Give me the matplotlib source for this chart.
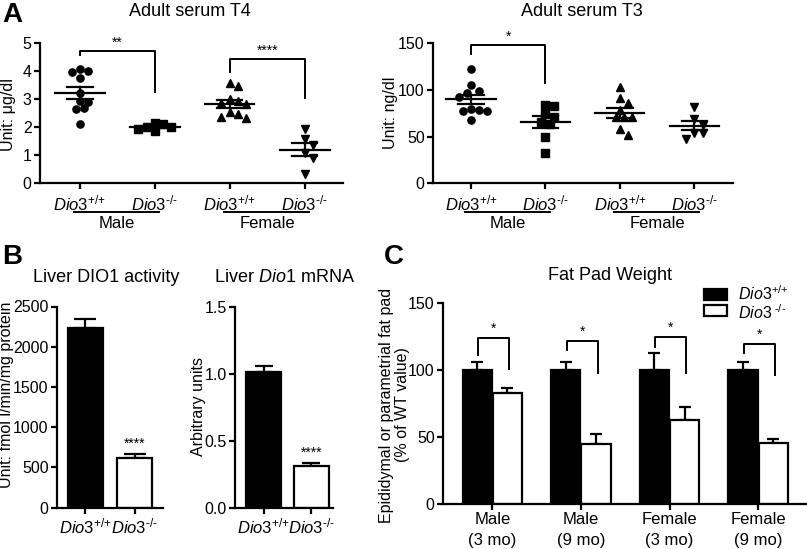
import numpy as np
import matplotlib
matplotlib.use('Agg')
import matplotlib.pyplot as plt
from matplotlib.transforms import blended_transform_factory
from matplotlib.patches import Rectangle

plt.rcParams['font.family'] = ['Liberation Sans', 'DejaVu Sans']
plt.rcParams['mathtext.fontset'] = 'custom'
plt.rcParams['mathtext.it'] = 'Liberation Sans:italic'
plt.rcParams['mathtext.rm'] = 'Liberation Sans'
plt.rcParams['mathtext.sf'] = 'Liberation Sans'

# ---------------- data ----------------
WT_LAB = r'$\mathit{Dio3}^{\text{+/+}}$'
KO_LAB = r'$\mathit{Dio3}^{\text{-/-}}$'
genotype_labels = [WT_LAB, KO_LAB, WT_LAB, KO_LAB]
sex_labels = ['Male', 'Female']

t4_male_wt = [4.07, 3.99, 4.01, 3.77, 3.24, 2.94, 2.92, 2.68, 2.64, 2.12]
t4_male_ko = [2.02, 1.87, 2.17, 1.94, 2.11, 2.00]
t4_female_wt = [3.48, 3.57, 3.00, 2.88, 2.83, 2.94, 2.48, 2.32, 2.36, 2.56]
t4_female_ko = [1.93, 1.57, 1.37, 1.07, 0.89, 0.33]

t3_male_wt = [123, 105, 99, 97, 93, 77.5, 79, 80, 77.5, 68]
t3_male_ko = [83, 84, 74, 71, 64, 66, 50, 33]
t3_female_wt = [103, 91, 86, 79, 71, 71, 71, 58, 52]
t3_female_ko = [82, 69, 63, 54, 54, 48]

# bracket annotations: (x_left, x_right, y_left_end, y_top, y_right_end, label)
t4_brackets = [(0, 1, 4.58, 4.73, 3.27, '**'), (2, 3, 3.99, 4.44, 3.04, '****')]
t3_brackets = [(0, 1, 139, 148, 107, '*')]

b_labels = [WT_LAB, KO_LAB]
dio1_activity = [2230, 615]
dio1_activity_sem = [115, 58]
dio1_mrna = [1.01, 0.31]
dio1_mrna_sem = [0.05, 0.025]

fat_groups = ['Male\n(3 mo)', 'Male\n(9 mo)', 'Female\n(3 mo)', 'Female\n(9 mo)']
fat_wt = [100, 100, 100, 100]
fat_wt_sem = [6, 6, 13, 6]
fat_ko = [83, 45, 63, 45.5]
fat_ko_sem = [4, 7, 9.5, 3]
fat_br_left = [111, 115, 117.6, 113]
fat_br_top = [124, 122, 124.6, 119.4]
fat_br_right = [101, 98, 98, 96.4]

# ---------------- layout helpers ----------------
W, H = 807, 549
fig = plt.figure(figsize=(W / 100, H / 100), dpi=100)


def ax_px(x0, x1, ytop, ybot):
    return fig.add_axes([x0 / W, 1 - ybot / H, (x1 - x0) / W, (ybot - ytop) / H])


def ftext(x, y, s, **kw):
    fig.text(x / W, 1 - y / H, s, **kw)


LW = 1.6
TICK_FS = 11.5
LAB_FS = 11.5
TITLE_FS = 13


def style_axes(ax):
    for s in ['top', 'right']:
        ax.spines[s].set_visible(False)
    for s in ['left', 'bottom']:
        ax.spines[s].set_linewidth(LW)
    ax.tick_params(axis='both', width=LW, length=4, direction='out', labelsize=TICK_FS, pad=2)


def swarm_offsets(vals, ypx_per_unit, xpx_per_unit, diam=7.5):
    vals = np.asarray(vals, float)
    order = np.argsort(-vals)
    placed = []
    offs = np.zeros(len(vals))
    cands = [0]
    for k in range(1, 12):
        cands += [k, -k]
    step = diam * 0.55
    for i in order:
        yp = vals[i] * ypx_per_unit
        for c in cands:
            xp = c * step
            if all((xp - px_) ** 2 + (yp - py_) ** 2 >= diam ** 2 for px_, py_ in placed):
                break
        placed.append((xp, yp))
        offs[i] = xp / xpx_per_unit
    return offs


def scatter_panel(ax, groups, markers, xpx, ypx_unit):
    for gi, (vals, mk) in enumerate(zip(groups, markers)):
        vals = np.asarray(vals, float)
        offs = swarm_offsets(vals, ypx_unit, xpx)
        ax.plot(gi + offs, vals, linestyle='none', marker=mk, color='black',
                markersize=5.2, clip_on=False, zorder=3)
        m = vals.mean()
        se = vals.std(ddof=1) / np.sqrt(len(vals))
        ax.plot([gi - 0.33, gi + 0.33], [m, m], color='black', lw=LW, zorder=4)
        ax.plot([gi - 0.17, gi + 0.17], [m + se, m + se], color='black', lw=LW, zorder=4)
        ax.plot([gi - 0.17, gi + 0.17], [m - se, m - se], color='black', lw=LW, zorder=4)
        ax.plot([gi, gi], [m - se, m + se], color='black', lw=LW, zorder=4)


def brackets(ax, brs, star_pad):
    for xl, xr, yl, yt, yr, lab in brs:
        ax.plot([xl, xl, xr, xr], [yl, yt, yt, yr], color='black', lw=1.4, clip_on=False)
        ax.text((xl + xr) / 2, yt + star_pad, lab, ha='center', va='bottom',
                fontsize=10, clip_on=False)


def genotype_xaxis(ax, ylab_frac):
    ax.set_xticks(range(4))
    ax.set_xticklabels(genotype_labels, fontsize=12)
    ax.tick_params(axis='x', pad=3)
    tr = blended_transform_factory(ax.transData, ax.transAxes)
    for k, lab in enumerate(sex_labels):
        x0 = 2 * k
        ax.plot([x0 - 0.08, x0 + 1.06], [ylab_frac, ylab_frac], color='black', lw=1.4,
                transform=tr, clip_on=False)
        ax.text(x0 + 0.5, ylab_frac - 0.03, lab, transform=tr, ha='center', va='top',
                fontsize=12)


# ---------------- Panel A: T4 ----------------
axA1 = ax_px(40, 343, 43.3, 183.3)
style_axes(axA1)
axA1.set_ylim(0, 5)
axA1.set_xlim(-0.53, 3.51)
axA1.set_yticks([0, 1, 2, 3, 4, 5])
scatter_panel(axA1, [t4_male_wt, t4_male_ko, t4_female_wt, t4_female_ko],
              ['o', 's', '^', 'v'], 75, 28)
brackets(axA1, t4_brackets, 0.05)
genotype_xaxis(axA1, -0.205)
ftext(9, 115, 'Unit: μg/dl', rotation=90, ha='center', va='center', fontsize=LAB_FS)
ftext(190, 12, 'Adult serum T4', ha='center', va='center', fontsize=TITLE_FS)
ftext(2, 15, 'A', ha='left', va='center', fontsize=20, fontweight='bold')

# ---------------- Panel A: T3 ----------------
axA2 = ax_px(433, 733, 43.3, 183.3)
style_axes(axA2)
axA2.set_ylim(0, 150)
axA2.set_xlim(-0.51, 3.52)
axA2.set_yticks([0, 50, 100, 150])
scatter_panel(axA2, [t3_male_wt, t3_male_ko, t3_female_wt, t3_female_ko],
              ['o', 's', '^', 'v'], 74.5, 140 / 150)
brackets(axA2, t3_brackets, 1.5)
genotype_xaxis(axA2, -0.205)
ftext(390, 113, 'Unit: ng/dl', rotation=90, ha='center', va='center', fontsize=LAB_FS)
ftext(582, 12, 'Adult serum T3', ha='center', va='center', fontsize=TITLE_FS)


# ---------------- Panel B ----------------
def bar_panel(ax, vals, sems, width, capsize):
    x = np.arange(len(vals))
    ax.bar(x, vals, width=width, color=['black', 'white'], edgecolor='black',
           linewidth=LW, zorder=2)
    ax.errorbar(x, vals, yerr=[np.zeros(len(vals)), sems], fmt='none', ecolor='black',
                elinewidth=LW, capsize=capsize, capthick=LW, zorder=1)
    ax.set_xticks(x)
    ax.set_xticklabels(b_labels, fontsize=12)


axB1 = ax_px(57, 163, 306.5, 507.7)
style_axes(axB1)
axB1.set_ylim(0, 2500)
axB1.set_xlim(-0.58, 1.58)
axB1.set_yticks([0, 500, 1000, 1500, 2000, 2500])
bar_panel(axB1, dio1_activity, dio1_activity_sem, 0.71, 8)
axB1.text(1, dio1_activity[1] + dio1_activity_sem[1] + 30, '****', ha='center',
          va='bottom', fontsize=10)
ftext(7, 395, 'Unit: fmol l/min/mg protein', rotation=90, ha='center', va='center',
      fontsize=LAB_FS)
ftext(106, 278, 'Liver DIO1 activity', ha='center', va='center', fontsize=TITLE_FS)
ftext(2, 257, 'B', ha='left', va='center', fontsize=20, fontweight='bold')

axB2 = ax_px(235, 333, 306.5, 507.7)
style_axes(axB2)
axB2.set_ylim(0, 1.5)
axB2.set_xlim(-0.6, 1.46)
axB2.set_yticks([0, 0.5, 1.0, 1.5])
axB2.set_yticklabels(['0.0', '0.5', '1.0', '1.5'])
bar_panel(axB2, dio1_mrna, dio1_mrna_sem, 0.74, 6.5)
axB2.text(1, dio1_mrna[1] + dio1_mrna_sem[1] + 0.02, '****', ha='center',
          va='bottom', fontsize=10)
ftext(198, 406, 'Arbitrary units', rotation=90, ha='center', va='center', fontsize=LAB_FS)
ftext(284, 278, r'Liver $\mathit{Dio1}$ mRNA', ha='center', va='center', fontsize=TITLE_FS)

# ---------------- Panel C ----------------
axC = ax_px(443, 806, 303.3, 504)
style_axes(axC)
axC.set_ylim(0, 150)
axC.set_xlim(-0.556, 3.54)
axC.set_yticks([0, 50, 100, 150])
xc = np.arange(len(fat_groups))
bw = 0.33
axC.bar(xc - 0.17, fat_wt, width=bw, color='black', edgecolor='black', linewidth=LW, zorder=2)
axC.bar(xc + 0.17, fat_ko, width=bw, color='white', edgecolor='black', linewidth=LW, zorder=2)
axC.errorbar(xc - 0.17, fat_wt, yerr=[np.zeros(4), fat_wt_sem], fmt='none', ecolor='black',
             elinewidth=LW, capsize=4.3, capthick=LW, zorder=1)
axC.errorbar(xc + 0.17, fat_ko, yerr=[np.zeros(4), fat_ko_sem], fmt='none', ecolor='black',
             elinewidth=LW, capsize=4.3, capthick=LW, zorder=1)
for i in range(4):
    xl, xr = xc[i] - 0.16, xc[i] + 0.19
    axC.plot([xl, xl, xr, xr], [fat_br_left[i], fat_br_top[i], fat_br_top[i], fat_br_right[i]],
             color='black', lw=1.4)
    axC.text((xl + xr) / 2, fat_br_top[i] + 1.5, '*', ha='center', va='bottom', fontsize=10)
axC.set_xticks(xc)
axC.set_xticklabels(fat_groups, fontsize=12, linespacing=1.45)
ftext(386, 405, 'Epididymal or parametrial fat pad', rotation=90, ha='center', va='center',
      fontsize=LAB_FS)
ftext(402, 405, '(% of WT value)', rotation=90, ha='center', va='center', fontsize=LAB_FS)
ftext(610, 276, 'Fat Pad Weight', ha='center', va='center', fontsize=TITLE_FS)
ftext(384, 257, 'C', ha='left', va='center', fontsize=20, fontweight='bold')

# legend
for (y0, fc), (ty, lab) in zip([(289, 'black'), (305, 'white')],
                               [(294, WT_LAB), (313, r'$\mathit{Dio3}^{\text{ -/-}}$')]):
    fig.add_artist(Rectangle((704 / W, 1 - (y0 + 11) / H), 23 / W, 11 / H,
                             facecolor=fc, edgecolor='black', linewidth=LW,
                             transform=fig.transFigure))
    ftext(738, ty, lab, ha='left', va='center', fontsize=11.5)

fig.savefig('out.png', dpi=100)
